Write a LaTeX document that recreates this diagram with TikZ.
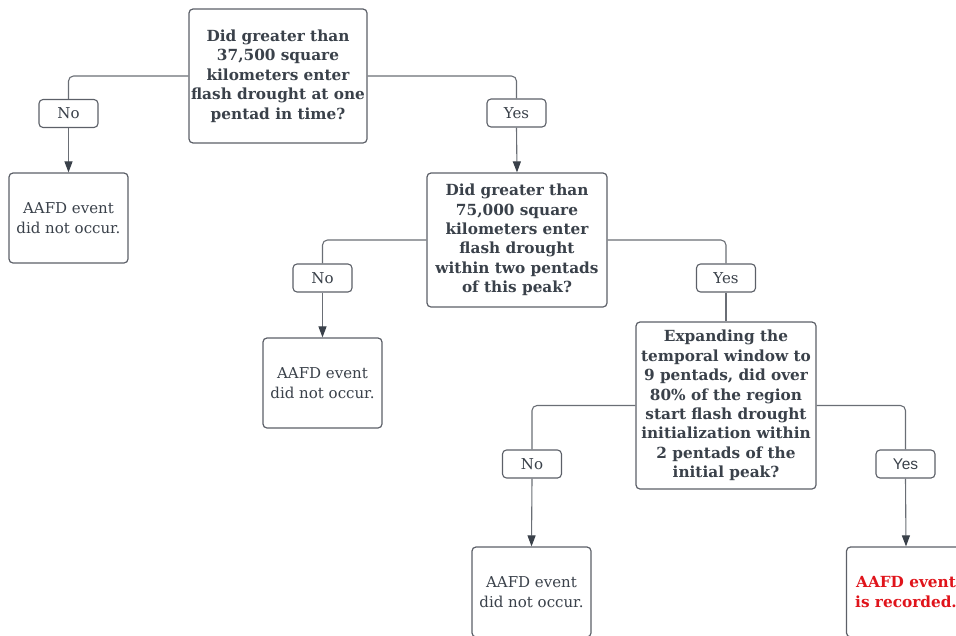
\documentclass[tikz,border=0pt]{standalone}
\usepackage{fontspec}
\setmainfont{DejaVu Serif}
\newfontfamily\labsans{Liberation Sans}
\usetikzlibrary{arrows.meta}
\definecolor{txt}{HTML}{3A414A}
\definecolor{brd}{HTML}{5C6068}
\definecolor{lnk}{HTML}{6A6E75}
\definecolor{redt}{HTML}{E0141B}
\tikzset{
  qbox/.style={draw=brd, line width=1.2pt, rounded corners=4pt, fill=white, text=txt,
    align=center, font=\fontsize{15.3}{19.4}\selectfont\bfseries, inner sep=0pt},
  endbox/.style={draw=brd, line width=1.2pt, rounded corners=4pt, fill=white, text=txt,
    align=center, font=\fontsize{15}{19.4}\selectfont, inner sep=0pt,
    minimum width=119pt, minimum height=90pt},
  lab/.style={draw=brd, line width=1.1pt, rounded corners=4pt, fill=white, text=txt,
    font=\fontsize{15}{17}\selectfont, inner sep=0pt, minimum width=59pt, minimum height=28pt},
  link/.style={draw=lnk, line width=1.1pt, rounded corners=5pt},
  arr/.style={link, -{Triangle[length=11pt,width=8pt,color=txt]}}
}
\begin{document}
\begin{tikzpicture}[x=1pt,y=-1pt]
\useasboundingbox (0,0) rectangle (956,635);
\begin{scope}
\clip (0,0) rectangle (956,635);
% question boxes
\node[qbox, minimum width=178pt, minimum height=134pt] (q1) at (278,76)
  {Did greater than\\37,500 square\\kilometers enter\\flash drought at one\\pentad in time?};
\node[qbox, minimum width=180pt, minimum height=134pt] (q2) at (517,240)
  {Did greater than\\75,000 square\\kilometers enter\\flash drought\\within two pentads\\of this peak?};
\node[qbox, minimum width=180pt, minimum height=167pt] (q3) at (726,405.5)
  {Expanding the\\temporal window to\\9 pentads, did over\\80\% of the region\\start flash drought\\initialization within\\2 pentads of the\\initial peak?};
% labels
\node[lab] (noA) at (68.5,113.5) {No};
\node[lab] (yesA) at (516.5,113) {Yes};
\node[lab] (noB) at (322.5,278) {No};
\node[lab] (yesB) at (726,278) {Yes};
\node[lab] (noC) at (532,464) {No};
\node[lab, font=\labsans\fontsize{15.5}{17}\selectfont] (yesC) at (905.5,464) {Yes};
% end boxes
\node[endbox] (endA) at (68.5,218) {AAFD event\\did not occur.};
\node[endbox] (endB) at (322.5,383) {AAFD event\\did not occur.};
\node[endbox] (endC) at (531.5,592) {AAFD event\\did not occur.};
\node[endbox, text=redt, font=\fontsize{15.3}{19.4}\selectfont\bfseries] (endD) at (906,592) {AAFD event\\is recorded.};
% connectors
\draw[link] (q1.west) -| (noA.north);
\draw[arr] (noA.south) -- (endA.north);
\draw[link] (q1.east) -| (yesA.north);
\draw[arr] (yesA.south) -- (q2.north);
\draw[link] (q2.west) -| (noB.north);
\draw[arr] (noB.south) -- (endB.north);
\draw[link] (q2.east) -| (yesB.north);
\draw[link] (yesB.south) -- (q3.north);
\draw[link] (q3.west) -| (noC.north);
\draw[arr] (noC.south) -- (endC.north);
\draw[link] (q3.east) -| (yesC.north);
\draw[arr] (yesC.south) -- (endD.north);
\end{scope}
\end{tikzpicture}
\end{document}
